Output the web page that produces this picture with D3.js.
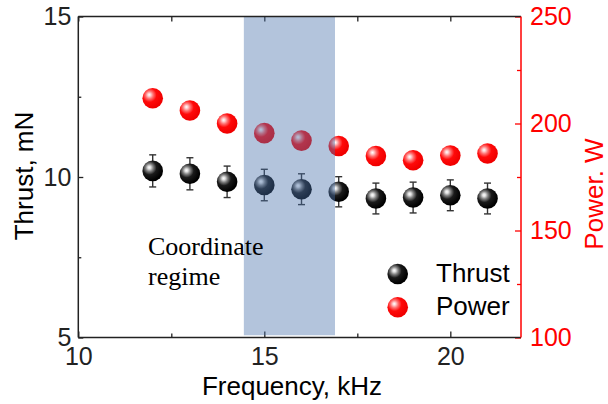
<!DOCTYPE html>
<html><head><meta charset="utf-8">
<script src="https://cdn.jsdelivr.net/npm/d3@7"></script>
<style>body{margin:0;background:#fff}svg{display:block}</style>
</head><body>
<script>
const freq = [12,13,14,15,16,17,18,19,20,21];
const thrust = [10.19,10.10,9.85,9.75,9.62,9.54,9.33,9.36,9.43,9.33];
const thrustErr = [0.50,0.50,0.49,0.49,0.48,0.47,0.48,0.48,0.48,0.48];
const power = [211.8,206.1,200.0,195.5,192.0,189.5,184.8,182.8,185.0,186.0];
const xMajor = [10,15,20], xMinor = [12.5,17.5];
const yLMajor = [5,10,15], yLMinor = [7.5,12.5];
const yRMajor = [100,150,200,250], yRMinor = [125,175,225];
const regime = [14.45,16.9];
const legendItems = ["Thrust","Power"];

const W=608,H=404;
const svg=d3.select("body").append("svg").attr("width",W).attr("height",H);
const x=d3.scaleLinear().domain([10,21.9]).range([78.3,521]);
const yL=d3.scaleLinear().domain([5,15]).range([337.5,16.5]);
const yR=d3.scaleLinear().domain([100,250]).range([337.5,16.5]);

const defs=svg.append("defs");
function grad(id,stops){
  const g=defs.append("radialGradient").attr("id",id).attr("cx","0.36").attr("cy","0.36").attr("fx","0.33").attr("fy","0.33").attr("r","0.62");
  stops.forEach(s=>g.append("stop").attr("offset",s[0]).attr("stop-color",s[1]));
}
grad("gBlack",[[0,"#ffffff"],[0.12,"#e0e0e0"],[0.3,"#808080"],[0.55,"#1a1a1a"],[1,"#000"]]);
grad("gRed",[[0,"#ffffff"],[0.12,"#ffd0d0"],[0.3,"#ff7070"],[0.55,"#ff0a0a"],[1,"#f00000"]]);

const font="'Liberation Sans', Arial, sans-serif";
const axCol="#222";

function styleAxis(g,col,fs){
  g.selectAll("path").remove();
  g.selectAll("line").attr("stroke",col).attr("stroke-width",1.3);
  g.selectAll("text").attr("fill",col).style("font-family",font).style("font-size",fs+"px");
}
// bottom
svg.append("g").attr("transform",`translate(0,${yL(5)})`)
  .call(d3.axisBottom(x).tickValues(xMajor).tickSizeInner(-6).tickSizeOuter(0).tickPadding(10).tickFormat(d3.format("d")))
  .call(g=>styleAxis(g,axCol,25));
svg.append("g").attr("transform",`translate(0,${yL(5)})`)
  .call(d3.axisBottom(x).tickValues(xMinor).tickSizeInner(-4).tickSizeOuter(0).tickFormat(""))
  .call(g=>styleAxis(g,axCol,25));
// top
svg.append("g").attr("transform",`translate(0,${yL(15)})`)
  .call(d3.axisTop(x).tickValues(xMajor.concat(xMinor)).tickSizeInner(-5).tickSizeOuter(0).tickFormat(""))
  .call(g=>styleAxis(g,axCol,25));
// left
svg.append("g").attr("transform",`translate(${x(10)},0)`)
  .call(d3.axisLeft(yL).tickValues(yLMajor).tickSizeInner(-5).tickSizeOuter(0).tickPadding(7).tickFormat(d3.format("d")))
  .call(g=>styleAxis(g,axCol,25));
svg.append("g").attr("transform",`translate(${x(10)},0)`)
  .call(d3.axisLeft(yL).tickValues(yLMinor).tickSizeInner(-3).tickSizeOuter(0).tickFormat(""))
  .call(g=>styleAxis(g,axCol,25));
// right
svg.append("g").attr("transform",`translate(${x(21.9)},0)`)
  .call(d3.axisRight(yR).tickValues(yRMajor).tickSizeInner(-6).tickSizeOuter(0).tickPadding(9).tickFormat(d3.format("d")))
  .call(g=>styleAxis(g,"#ff0000",25));
svg.append("g").attr("transform",`translate(${x(21.9)},0)`)
  .call(d3.axisRight(yR).tickValues(yRMinor).tickSizeInner(-4).tickSizeOuter(0).tickFormat(""))
  .call(g=>styleAxis(g,"#ff0000",25));

// error bars
const eb=svg.append("g").attr("stroke","#333").attr("stroke-width",1.4);
freq.forEach((f,i)=>{
  const cx=x(f), t=yL(thrust[i]+thrustErr[i]), b=yL(thrust[i]-thrustErr[i]);
  eb.append("line").attr("x1",cx).attr("x2",cx).attr("y1",t).attr("y2",b);
  eb.append("line").attr("x1",cx-3.5).attr("x2",cx+3.5).attr("y1",t).attr("y2",t);
  eb.append("line").attr("x1",cx-3.5).attr("x2",cx+3.5).attr("y1",b).attr("y2",b);
});
// points
svg.append("g").selectAll("circle").data(freq).join("circle")
  .attr("cx",d=>x(d)).attr("cy",(d,i)=>yR(power[i])).attr("r",10.3).attr("fill","url(#gRed)");
svg.append("g").selectAll("circle").data(freq).join("circle")
  .attr("cx",d=>x(d)).attr("cy",(d,i)=>yL(thrust[i])).attr("r",10.3).attr("fill","url(#gBlack)");

// regime rect
svg.append("rect").attr("x",x(regime[0])).attr("width",x(regime[1])-x(regime[0]))
  .attr("y",yL(15)).attr("height",yL(5.07)-yL(15))
  .attr("fill","rgb(74,114,171)").attr("fill-opacity",0.42);

// frame lines
const fr=svg.append("g").attr("stroke-width",1.5).attr("fill","none");
fr.append("line").attr("x1",x(10)).attr("x2",x(21.9)).attr("y1",yL(5)).attr("y2",yL(5)).attr("stroke",axCol);
fr.append("line").attr("x1",x(10)).attr("x2",x(21.9)).attr("y1",yL(15)).attr("y2",yL(15)).attr("stroke",axCol);
fr.append("line").attr("x1",x(10)).attr("x2",x(10)).attr("y1",yL(5)).attr("y2",yL(15)).attr("stroke",axCol);
fr.append("line").attr("x1",x(21.9)).attr("x2",x(21.9)).attr("y1",yL(5)).attr("y2",yL(15)).attr("stroke","#ff0000");

// annotation
const ann=svg.append("text").attr("x",148).attr("y",255).style("font-family","'Liberation Serif','Times New Roman',serif").style("font-size","26px").attr("fill","#000");
ann.append("tspan").attr("x",148).attr("y",255).text("Coordinate");
ann.append("tspan").attr("x",148).attr("y",285).text("regime");

// legend
const lg=svg.append("g");
legendItems.forEach((t,i)=>{
  lg.append("circle").attr("cx",397.7).attr("cy",274+i*33.3).attr("r",10.3).attr("fill",i===0?"url(#gBlack)":"url(#gRed)");
  lg.append("text").attr("x",436).attr("y",282+i*33.3).text(t).style("font-family",font).style("font-size","26px").attr("fill","#000");
});

// titles
svg.append("text").attr("x",292).attr("y",395).attr("text-anchor","middle").text("Frequency, kHz")
  .style("font-family",font).style("font-size","26px").attr("fill","#000");
svg.append("text").attr("transform","translate(33,176) rotate(-90)").attr("text-anchor","middle").text("Thrust, mN")
  .style("font-family",font).style("font-size","26px").attr("fill","#000");
svg.append("text").attr("transform","translate(603,194) rotate(-90)").attr("text-anchor","middle").text("Power. W")
  .style("font-family",font).style("font-size","26px").attr("fill","#ff0000");
</script>
</body></html>
